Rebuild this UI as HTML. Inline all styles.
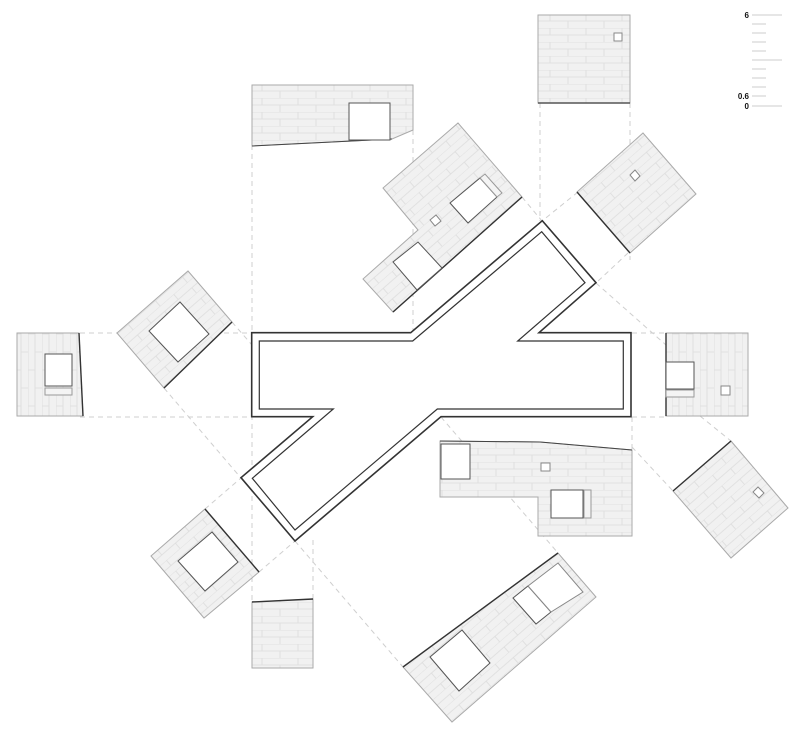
<!DOCTYPE html>
<html><head><meta charset="utf-8"><style>
html,body{margin:0;padding:0;background:#fff;}
svg{display:block;}
</style></head><body>
<svg width="800" height="732" viewBox="0 0 800 732" xmlns="http://www.w3.org/2000/svg" font-family="Liberation Sans, sans-serif">
<defs>
<pattern id="brick" width="36" height="14" patternUnits="userSpaceOnUse">
<rect width="36" height="14" fill="#f1f1f1"/>
<path d="M0 0H36M0 7H36M10 0V7M28 7V14" stroke="#dcdcdc" stroke-width="0.8" fill="none"/>
</pattern>
<pattern id="brickR" width="36" height="14" patternUnits="userSpaceOnUse" patternTransform="rotate(-41)">
<rect width="36" height="14" fill="#f1f1f1"/>
<path d="M0 0H36M0 7H36M10 0V7M28 7V14" stroke="#dcdcdc" stroke-width="0.8" fill="none"/>
</pattern>
<pattern id="brickV" width="14" height="36" patternUnits="userSpaceOnUse">
<rect width="14" height="36" fill="#f1f1f1"/>
<path d="M0 0V36M7 0V36M0 10H7M7 28H14" stroke="#dcdcdc" stroke-width="0.8" fill="none"/>
</pattern>
</defs>

<g stroke="#cfcfcf" stroke-width="1" stroke-dasharray="5 4" fill="none">
<line x1="80" y1="333" x2="252" y2="333"/>
<line x1="80" y1="417" x2="252" y2="417"/>
<line x1="632" y1="333" x2="666" y2="333"/>
<line x1="632" y1="417" x2="666" y2="417"/>
<line x1="252" y1="145" x2="252" y2="602"/>
<line x1="413" y1="130" x2="413" y2="333"/>
<line x1="540" y1="103" x2="540" y2="221"/>
<line x1="630" y1="103" x2="630" y2="260"/>
<line x1="313" y1="540" x2="313" y2="600"/>
<line x1="632" y1="417" x2="632" y2="450"/>
<line x1="522" y1="197" x2="542" y2="221"/>
<line x1="578" y1="192" x2="542" y2="221"/>
<line x1="628" y1="253" x2="596" y2="283"/>
<line x1="596" y1="283" x2="666" y2="345"/>
<line x1="232" y1="322" x2="252" y2="345"/>
<line x1="164" y1="388" x2="241" y2="478"/>
<line x1="205" y1="509" x2="241" y2="478"/>
<line x1="259" y1="572" x2="295" y2="541"/>
<line x1="295" y1="541" x2="403" y2="667"/>
<line x1="441" y1="417" x2="558" y2="553"/>
<line x1="700" y1="416" x2="731" y2="441"/>
<line x1="632" y1="447" x2="673" y2="491"/>
</g>

<polygon points="251.7,332.7 410.7,332.7 542.3,220.7 596,282.7 539,332.7 631,332.7 631,416.7 441,416.7 295,541 241,477.7 312.7,416.7 251.7,416.7" fill="#fff" stroke="#333" stroke-width="1.6"/>
<polygon points="259.3,341 412.7,341 541.7,231.7 585,282.7 517.7,341 623.3,341 623.3,409 437.3,409 295,530 252.3,478.3 333.3,409 259.3,409" fill="#fff" stroke="#333" stroke-width="1.2"/>

<g stroke="#aaa" stroke-width="1">
<polygon points="252,85 413,85 413,130 392,139 252,146" fill="url(#brick)"/>
<line x1="252" y1="146" x2="392" y2="139" stroke="#444"/>
<rect x="349" y="103" width="41" height="37" fill="#fff" stroke="#555"/>
<rect x="538" y="15" width="92" height="88" fill="url(#brick)"/>
<line x1="538" y1="103" x2="630" y2="103" stroke="#555" stroke-width="1.5"/>
<rect x="614" y="33" width="8" height="8" fill="#fff" stroke="#888"/>
<polygon points="458,123 522,197 393,312 363,279 418,230 383,188" fill="url(#brickR)"/>
<line x1="522" y1="197" x2="393" y2="312" stroke="#333" stroke-width="1.4"/>
<polygon points="450,203 480,178 497,197 468,223" fill="#fff" stroke="#555"/>
<polygon points="480,178 485,174 502,193 497,197" fill="#f4f4f4" stroke="#999"/>
<polygon points="430,220 436,215 441,221 435,226" fill="#fff" stroke="#888"/>
<polygon points="393,262 418,242 442,268 417,290" fill="#fff" stroke="#555"/>
<polygon points="577,192 643,133 696,194 630,253" fill="url(#brickR)"/>
<line x1="577" y1="192" x2="630" y2="253" stroke="#333" stroke-width="1.4"/>
<polygon points="630,175 635,170 640,176 635,181" fill="#fff" stroke="#888"/>
<polygon points="117,333 188,271 232,322 164,388" fill="url(#brickR)"/>
<line x1="232" y1="322" x2="164" y2="388" stroke="#333" stroke-width="1.4"/>
<polygon points="149,331 180,302 209,334 178,362" fill="#fff" stroke="#555"/>
<polygon points="17,333 79,333 83,416 17,416" fill="url(#brickV)"/>
<line x1="79" y1="333" x2="83" y2="416" stroke="#333" stroke-width="1.4"/>
<rect x="45" y="354" width="27" height="32" fill="#fff" stroke="#555"/>
<rect x="45" y="388" width="27" height="7" fill="#f4f4f4" stroke="#999"/>
<rect x="666" y="333" width="82" height="83" fill="url(#brickV)"/>
<line x1="666" y1="333" x2="666" y2="416" stroke="#333" stroke-width="1.4"/>
<rect x="666" y="362" width="28" height="27" fill="#fff" stroke="#555"/>
<rect x="666" y="390" width="28" height="7" fill="#f4f4f4" stroke="#999"/>
<rect x="721" y="386" width="9" height="9" fill="#fff" stroke="#888"/>
<polygon points="440,441 540,442 632,450 632,536 538,536 538,497 440,497" fill="url(#brick)"/>
<polyline points="440,441 540,442 632,450" fill="none" stroke="#444"/>
<rect x="441" y="444" width="29" height="35" fill="#fff" stroke="#555"/>
<rect x="541" y="463" width="9" height="8" fill="#fff" stroke="#888"/>
<rect x="551" y="490" width="32" height="28" fill="#fff" stroke="#555"/>
<rect x="584" y="490" width="7" height="28" fill="#f4f4f4" stroke="#999"/>
<polygon points="673,491 731,441 788,508 731,558" fill="url(#brickR)"/>
<line x1="673" y1="491" x2="731" y2="441" stroke="#333" stroke-width="1.4"/>
<polygon points="753,492 758,487 764,493 759,498" fill="#fff" stroke="#888"/>
<polygon points="151,556 205,509 259,572 204,618" fill="url(#brickR)"/>
<line x1="205" y1="509" x2="259" y2="572" stroke="#333" stroke-width="1.4"/>
<polygon points="178,561 212,532 238,562 205,591" fill="#fff" stroke="#555"/>
<polygon points="252,602 313,599 313,668 252,668" fill="url(#brick)"/>
<line x1="252" y1="602" x2="313" y2="599" stroke="#333" stroke-width="1.4"/>
<polygon points="403,667 558,553 596,597 452,722" fill="url(#brickR)"/>
<line x1="403" y1="667" x2="558" y2="553" stroke="#333" stroke-width="1.4"/>
<polygon points="430,657 462,630 490,663 459,691" fill="#fff" stroke="#555"/>
<polygon points="513,598 528,586 551,612 536,624" fill="#fff" stroke="#555"/>
<polygon points="528,586 558,563 583,592 551,612" fill="#fff" stroke="#888"/>
</g>

<g stroke="#ccc" stroke-width="1">
<line x1="752" y1="15" x2="782" y2="15"/>
<line x1="752" y1="24" x2="766" y2="24"/>
<line x1="752" y1="33" x2="766" y2="33"/>
<line x1="752" y1="42" x2="766" y2="42"/>
<line x1="752" y1="51" x2="766" y2="51"/>
<line x1="752" y1="60" x2="782" y2="60"/>
<line x1="752" y1="69" x2="766" y2="69"/>
<line x1="752" y1="78" x2="766" y2="78"/>
<line x1="752" y1="87" x2="766" y2="87"/>
<line x1="752" y1="96" x2="766" y2="96"/>
<line x1="752" y1="106" x2="782" y2="106"/>
</g>
<g font-size="8" font-weight="bold" fill="#111" text-anchor="end">
<text x="749" y="18">6</text>
<text x="749" y="99">0.6</text>
<text x="749" y="109">0</text>
</g>
</svg>
</body></html>
